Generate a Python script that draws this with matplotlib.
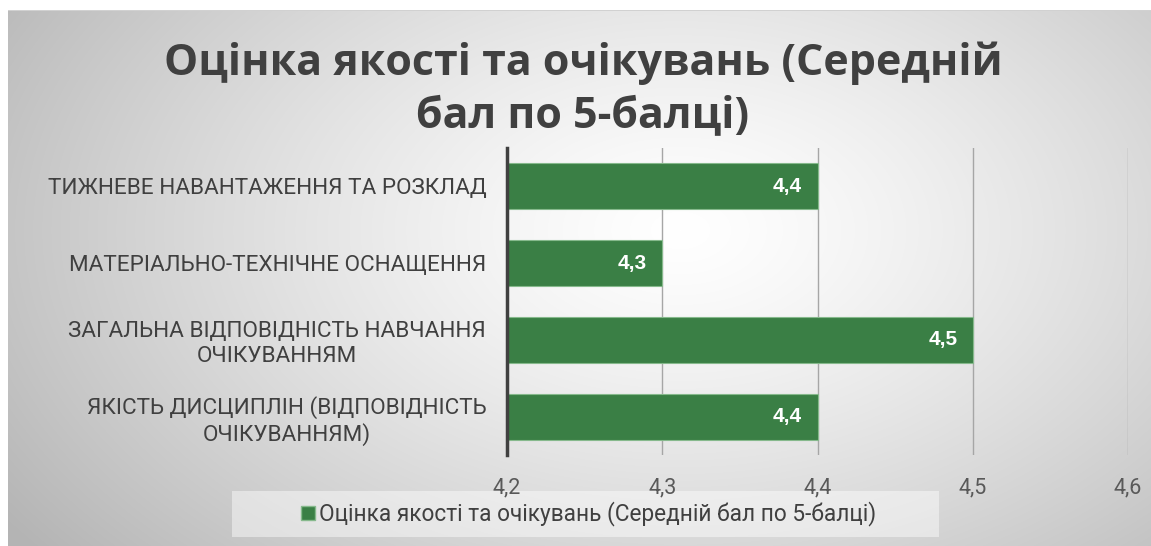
import numpy as np
import matplotlib
matplotlib.use("Agg")
import matplotlib.pyplot as plt
from matplotlib.patches import Rectangle
from matplotlib.lines import Line2D

# Дані
categories = [
    "ТИЖНЕВЕ НАВАНТАЖЕННЯ ТА РОЗКЛАД",
    "МАТЕРІАЛЬНО-ТЕХНІЧНЕ ОСНАЩЕННЯ",
    "ЗАГАЛЬНА ВІДПОВІДНІСТЬ НАВЧАННЯ\nОЧІКУВАННЯМ",
    "ЯКІСТЬ ДИСЦИПЛІН (ВІДПОВІДНІСТЬ\nОЧІКУВАННЯМ)",
]
values = [4.4, 4.3, 4.5, 4.4]
xticks = [4.2, 4.3, 4.4, 4.5, 4.6]
series_name = "Оцінка якості та очікувань (Середній бал по 5-балці)"
title_lines = ["Оцінка якості та очікувань (Середній", "бал по 5-балці)"]

W, H = 1151, 546
fig = plt.figure(figsize=(W / 100, H / 100), dpi=100)
fig.patch.set_facecolor("white")

# Фон: радіальний градієнт
bg = fig.add_axes([0, 0, 1, 1], zorder=-10)
yy, xx = np.mgrid[0:H, 0:W]
r = np.sqrt(((xx - 680) / 680.0) ** 2 + ((yy - 230) / 430.0) ** 2)
shade = 1 - 0.23 * np.clip(r, 0, 1.2) ** 1.3
shade[:10, :] = 1.0
shade[:, :8] = 1.0
shade[10, 8:] = 0.82
img = np.dstack([shade, shade, shade])
bg.imshow(img, aspect="auto", interpolation="bilinear")
bg.axis("off")

# Основний графік
ax = fig.add_axes([507 / W, 1 - 455 / H, (1128 - 507) / W, (455 - 148) / H])
ax.patch.set_alpha(0)
y = np.arange(len(categories))
bars = ax.barh(y, values, height=0.6, left=0, color="#3a7f45",
               edgecolor="#86b98c", linewidth=0.8, zorder=3)
ax.set_xlim(4.2, 4.6)
ax.set_ylim(len(categories) - 0.5, -0.5)
ax.set_xticks(xticks)
ax.set_xticklabels([f"{t:.1f}".replace(".", ",") for t in xticks],
                   fontsize=15.5, color="#595959", family="Roboto")
ax.tick_params(axis="x", length=0, pad=16)
ax.tick_params(axis="y", length=0, pad=15)
ax.set_yticks(y)
ax.set_yticklabels(categories, fontsize=16.2, color="#404040", family="Roboto")
for lab in ax.get_yticklabels():
    lab.set_multialignment("center")
ax.grid(axis="x", color="#a6a6a6", linewidth=1, zorder=0)
for s in ["top", "right", "bottom"]:
    ax.spines[s].set_visible(False)
ax.spines["left"].set_color("#404040")
ax.spines["left"].set_linewidth(2.5)
ax.spines["left"].set_zorder(5)

for b, v in zip(bars, values):
    ax.annotate(f"{v:.1f}".replace(".", ","), xy=(v, b.get_y() + b.get_height() / 2),
                xytext=(-11, 0), textcoords="offset points", ha="right", va="center",
                color="white", fontsize=15, fontweight="bold", family="Liberation Sans",
                zorder=6)

# Заголовок
fig.text(583 / W, 1 - 75 / H, title_lines[0], ha="center", va="baseline",
         fontsize=31, fontweight="bold", color="#404040", family="Open Sans")
fig.text(583 / W, 1 - 128 / H, title_lines[1], ha="center", va="baseline",
         fontsize=31, fontweight="bold", color="#404040", family="Open Sans")

# Легенда
fig.patches.append(Rectangle((232 / W, 1 - 537 / H), (939 - 232) / W, 46 / H,
                             transform=fig.transFigure, facecolor="white",
                             alpha=0.45, edgecolor="none", zorder=-5))
handle = Line2D([], [], marker="s", linestyle="none", markersize=10,
                markerfacecolor="#3a7f45", markeredgecolor="#86b98c")
fig.legend([handle], [series_name], loc="center", bbox_to_anchor=(588 / W, 1 - 514 / H),
           frameon=False, handletextpad=0.15, borderpad=0, handlelength=0.7,
           prop={"family": "Roboto", "size": 16.3}, labelcolor="#404040")

fig.savefig("out.png", dpi=100)
